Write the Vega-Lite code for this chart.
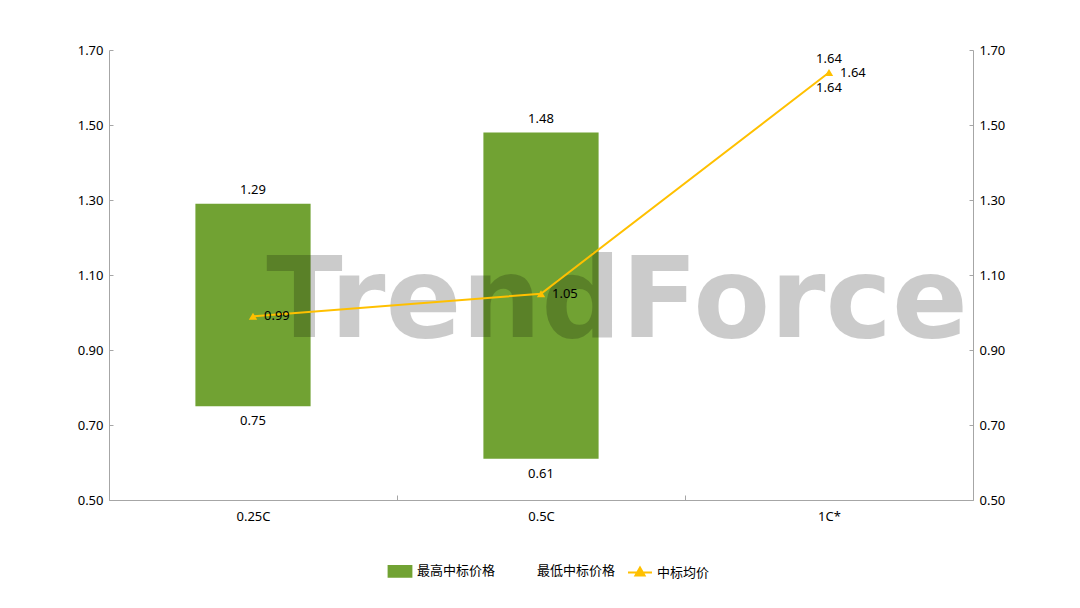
{
  "$schema": "https://vega.github.io/schema/vega-lite/v6.json",
  "width": 864,
  "height": 450,
  "autosize": {"type": "none"},
  "padding": {"left": 109, "top": 50, "right": 107, "bottom": 108},
  "background": "#ffffff",
  "config": {
    "view": {"stroke": null},
    "axis": {
      "domainColor": "#a6a6a6",
      "tickColor": "#a6a6a6",
      "labelFont": "Noto Sans",
      "labelFontSize": 13,
      "labelColor": "#000000",
      "grid": false,
      "title": null
    },
    "text": {"font": "Noto Sans", "fontSize": 13, "color": "#000000"}
  },
  "data": {
    "values": [
      {"cat": "0.25C", "high": 1.29, "low": 0.75, "avg": 0.99},
      {"cat": "0.5C", "high": 1.48, "low": 0.61, "avg": 1.05},
      {"cat": "1C*", "high": 1.64, "low": 1.64, "avg": 1.64}
    ]
  },
  "resolve": {"axis": {"y": "independent"}},
  "layer": [
    {
      "mark": {"type": "bar", "width": {"band": 0.4}},
      "encoding": {
        "x": {
          "field": "cat", "type": "nominal", "sort": null,
          "scale": {"paddingInner": 0, "paddingOuter": 0},
          "axis": {"labelAngle": 0, "tickBand": "extent", "tickSize": -5, "labelPadding": 15}
        },
        "y": {
          "field": "low", "type": "quantitative",
          "scale": {"domain": [0.5, 1.7], "nice": false, "zero": false},
          "axis": {"orient": "left", "values": [0.5, 0.7, 0.9, 1.1, 1.3, 1.5, 1.7], "format": ".2f", "tickSize": -4, "labelPadding": 10}
        },
        "y2": {"field": "high"},
        "color": {
          "datum": "最高中标价格",
          "type": "nominal",
          "scale": {"domain": ["最高中标价格", "最低中标价格", "中标均价"], "range": ["#71a233", "transparent", "#ffc000"]},
          "legend": {
            "orient": "none",
            "legendX": 278,
            "legendY": 508,
            "direction": "horizontal",
            "title": null,
            "labelFont": "Noto Sans CJK SC",
            "labelFontSize": 13,
            "labelColor": "#000000",
            "labelOffset": 4,
            "columnPadding": 8,
            "symbolSize": 576,
            "encode": {
              "symbols": {
                "update": {
                  "shape": {"signal": "datum.value === '中标均价' ? 'M-1,0H1M0,-0.42L0.38,0.25L-0.38,0.25Z' : 'M-0.95,-0.45H0.95V0.45H-0.95Z'"},
                  "fill": {"signal": "datum.value === '最高中标价格' ? '#71a233' : (datum.value === '中标均价' ? '#ffc000' : 'transparent')"},
                  "stroke": {"signal": "datum.value === '中标均价' ? '#ffc000' : 'transparent'"},
                  "strokeWidth": {"value": 2},
                  "size": {"value": 576},
                  "opacity": {"value": 1}
                }
              }
            }
          }
        }
      }
    },
    {
      "mark": {"type": "text", "baseline": "alphabetic", "dy": -10},
      "encoding": {
        "x": {"field": "cat", "type": "nominal", "sort": null},
        "y": {"field": "high", "type": "quantitative", "axis": null},
        "text": {"field": "high", "type": "quantitative", "format": ".2f"}
      }
    },
    {
      "mark": {"type": "text", "baseline": "alphabetic", "dy": 19},
      "encoding": {
        "x": {"field": "cat", "type": "nominal", "sort": null},
        "y": {"field": "low", "type": "quantitative", "axis": null},
        "text": {"field": "low", "type": "quantitative", "format": ".2f"}
      }
    },
    {
      "data": {"values": [{"mark": "TrendForce"}]},
      "mark": {"type": "text", "font": "DejaVu Sans", "fontWeight": "bold", "fontSize": 112, "align": "center", "baseline": "alphabetic", "dx": 76, "color": "#000000", "opacity": 0.2},
      "encoding": {
        "x": {"datum": "0.5C", "type": "nominal"},
        "y": {"datum": 0.935, "type": "quantitative", "axis": null},
        "text": {"field": "mark", "type": "nominal"}
      }
    },
    {
      "mark": {"type": "line", "color": "#ffc000", "strokeWidth": 2},
      "encoding": {
        "x": {"field": "cat", "type": "nominal", "sort": null},
        "y": {
          "field": "avg", "type": "quantitative",
          "axis": {"orient": "right", "values": [0.5, 0.7, 0.9, 1.1, 1.3, 1.5, 1.7], "format": ".2f", "tickSize": -4, "labelPadding": 10}
        },
        "color": {"datum": "中标均价", "type": "nominal"}
      }
    },
    {
      "mark": {"type": "point", "shape": "triangle-up", "filled": true, "size": 70, "opacity": 1},
      "encoding": {
        "x": {"field": "cat", "type": "nominal", "sort": null},
        "y": {"field": "avg", "type": "quantitative", "axis": null},
        "color": {"datum": "中标均价", "type": "nominal"}
      }
    },
    {
      "mark": {"type": "text", "align": "left", "baseline": "middle", "dx": 11},
      "encoding": {
        "x": {"field": "cat", "type": "nominal", "sort": null},
        "y": {"field": "avg", "type": "quantitative", "axis": null},
        "text": {"field": "avg", "type": "quantitative", "format": ".2f"}
      }
    }
  ]
}
